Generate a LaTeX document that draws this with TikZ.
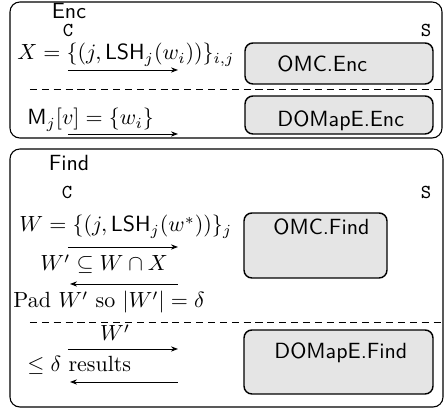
\documentclass[tikz,border=0pt]{standalone}
\usetikzlibrary{arrows.meta,fit}
\begin{document}
\begin{tikzpicture}[x=0.455pt,y=-0.455pt,
  phase/.style={draw, line width=0.5pt, rounded corners=4.5pt, inner sep=0pt},
  procbox/.style={draw, line width=0.65pt, fill=gray!20, rounded corners=3.6pt, inner sep=0pt},
  sep/.style={dash pattern=on 3.2pt off 2.2pt, line width=0.4pt},
  msg/.style={-{Stealth[length=3.2pt,width=2.4pt]}, line width=0.4pt},
  lbl/.style={anchor=base west, inner sep=0pt, font=\sffamily},
  txt/.style={anchor=base west, inner sep=0pt},
  title/.style={anchor=base, inner sep=0pt, font=\sffamily},
  party/.style={anchor=base, inner sep=0pt, font=\small\ttfamily}]

\useasboundingbox (0,0) rectangle (444,410);

% ---------- Enc phase ----------
\node[phase, fit={(10,2) (442,138)}] (encphase) {};
\node[title] (enclbl) at (69,19) {Enc};
\node[party] (encC) at (68,37) {C};
\node[party] (encS) at (426,37) {S};

\node[txt] (xset) at (17,60) {$X = \{(j, \mathsf{LSH}_j(w_i))\}_{i,j}$};
\coordinate (e1a) at (68,70);
\coordinate (e1b) at (178,70);
\draw[msg] (e1a) -- (e1b);
\node[procbox, fit={(245,43) (433,84)}] (omcenc) {};
\node[lbl] (omcenclbl) at (277,72) {OMC.Enc};

\coordinate (d1a) at (30,89);
\coordinate (d1b) at (442,89);
\draw[sep] (d1a) -- (d1b);

\node[txt] (mset) at (27,125) {$\mathsf{M}_j[v] = \{w_i\}$};
\coordinate (e2a) at (68,134);
\coordinate (e2b) at (178,134);
\draw[msg] (e2a) -- (e2b);
\node[procbox, fit={(245,96) (433,134)}] (domenc) {};
\node[lbl] (domenclbl) at (277,127) {DOMapE.Enc};

% ---------- Find phase ----------
\node[phase, fit={(10,149) (443,407)}] (findphase) {};
\node[title] (findlbl) at (69,171) {Find};
\node[party] (findC) at (67,199) {C};
\node[party] (findS) at (426,199) {S};

\node[txt] (wset) at (19,232) {$W = \{(j, \mathsf{LSH}_j(w^*))\}_j$};
\coordinate (f1a) at (68,247);
\coordinate (f1b) at (178,247);
\draw[msg] (f1a) -- (f1b);
\node[txt] (wsub) at (40,271) {$W' \subseteq W \cap X$};
\coordinate (f2a) at (178,284);
\coordinate (f2b) at (70,284);
\draw[msg] (f2a) -- (f2b);
\node[procbox, fit={(244,213) (387,278)}] (omcfind) {};
\node[lbl] (omcfindlbl) at (273,235) {OMC.Find};

\node[txt] (pad) at (13,308) {Pad $W'$ so $|W'| = \delta$};

\coordinate (d2a) at (30,322);
\coordinate (d2b) at (443,322);
\draw[sep] (d2a) -- (d2b);

\node[anchor=base, inner sep=0pt] (wprime) at (115,341) {$W'$};
\coordinate (f3a) at (68,349);
\coordinate (f3b) at (178,349);
\draw[msg] (f3a) -- (f3b);
\node[txt] (res) at (27,372) {$\leq \delta$ results};
\coordinate (f4a) at (178,382);
\coordinate (f4b) at (70,382);
\draw[msg] (f4a) -- (f4b);
\node[procbox, fit={(244,330) (433,394)}] (domfind) {};
\node[lbl] (domfindlbl) at (274,359) {DOMapE.Find};
\end{tikzpicture}
\end{document}
